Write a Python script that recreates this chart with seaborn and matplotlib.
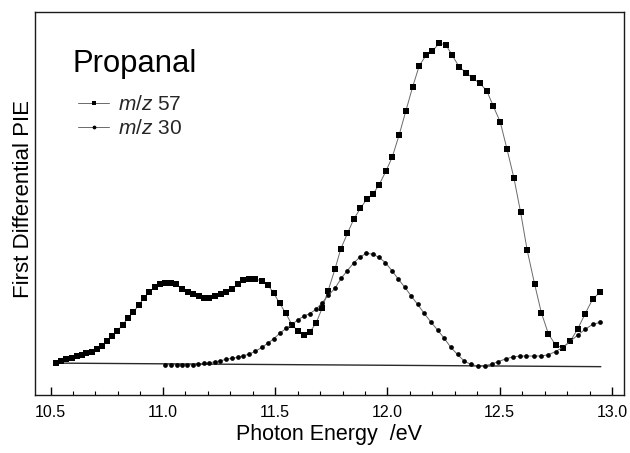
import matplotlib
matplotlib.use("Agg")
import matplotlib.pyplot as plt
import numpy as np
import pandas as pd
import seaborn as sns
from matplotlib.ticker import MultipleLocator

# ---- data (photon energy in eV, first differential PIE in arbitrary units) ----
mz57_energy = [10.525, 10.548, 10.570, 10.594, 10.616, 10.639, 10.660, 10.683, 10.705, 10.729,
               10.751, 10.773, 10.798, 10.821, 10.844, 10.869, 10.892, 10.916, 10.940, 10.963,
               10.987, 11.011, 11.035, 11.058, 11.085, 11.112, 11.136, 11.160, 11.183, 11.207,
               11.231, 11.258, 11.281, 11.308, 11.335, 11.359, 11.385, 11.412, 11.442, 11.468,
               11.494, 11.520, 11.547, 11.575, 11.601, 11.627, 11.654, 11.682, 11.709, 11.736,
               11.766, 11.792, 11.822, 11.850, 11.880, 11.908, 11.935, 11.963, 11.994, 12.022,
               12.052, 12.082, 12.112, 12.141, 12.171, 12.200, 12.230, 12.260, 12.289, 12.319,
               12.349, 12.379, 12.410, 12.442, 12.471, 12.502, 12.532, 12.563, 12.593, 12.622,
               12.655, 12.685, 12.717, 12.750, 12.781, 12.814, 12.847, 12.880, 12.914, 12.948]
mz57_signal = [0.7, 1.2, 1.9, 2.3, 2.7, 3.1, 3.6, 4.1, 4.9, 6.0,
               7.4, 8.9, 10.6, 12.5, 14.5, 16.5, 18.5, 20.8, 22.8, 24.1,
               25.2, 25.4, 25.4, 25.2, 23.7, 22.6, 22.0, 21.5, 20.8, 20.8,
               21.4, 22.0, 22.8, 23.7, 25.2, 26.3, 26.6, 26.6, 26.2, 24.8,
               22.3, 19.2, 16.1, 12.5, 10.6, 9.4, 10.2, 13.0, 17.6, 23.1,
               29.7, 36.0, 40.9, 45.3, 48.7, 51.5, 53.0, 56.0, 60.3, 64.7,
               71.4, 78.9, 86.3, 92.8, 96.1, 97.4, 99.9, 99.4, 96.1, 92.6,
               90.8, 89.1, 87.5, 85.2, 80.4, 75.5, 67.1, 58.1, 47.4, 35.7,
               25.2, 16.3, 9.6, 6.1, 5.4, 7.4, 11.2, 15.9, 20.5, 22.7]

mz30_energy = [11.011, 11.038, 11.061, 11.085, 11.109, 11.133, 11.156, 11.183, 11.207, 11.231,
               11.256, 11.281, 11.308, 11.335, 11.359, 11.385, 11.412, 11.442, 11.468, 11.494,
               11.520, 11.549, 11.575, 11.602, 11.629, 11.655, 11.682, 11.709, 11.736, 11.766,
               11.794, 11.821, 11.850, 11.877, 11.906, 11.935, 11.963, 11.991, 12.020, 12.048,
               12.077, 12.106, 12.134, 12.163, 12.193, 12.223, 12.253, 12.282, 12.312, 12.342,
               12.372, 12.403, 12.433, 12.464, 12.494, 12.526, 12.557, 12.588, 12.619, 12.651,
               12.684, 12.716, 12.749, 12.781, 12.814, 12.847, 12.880, 12.913, 12.948]
mz30_signal = [0.1, 0.1, 0.1, 0.1, 0.1, 0.1, 0.2, 0.5, 0.7, 1.0,
               1.3, 1.8, 2.1, 2.4, 2.9, 3.4, 4.3, 5.5, 6.8, 8.2,
               9.8, 11.4, 12.6, 14.1, 15.2, 16.0, 17.3, 19.3, 21.6, 23.8,
               26.9, 29.3, 31.7, 33.5, 34.7, 34.4, 33.4, 31.8, 29.3, 26.7,
               24.2, 21.4, 18.9, 16.1, 13.4, 10.9, 8.3, 5.5, 3.3, 1.2,
               0.2, -0.3, -0.2, 0.3, 1.1, 1.9, 2.5, 2.8, 2.8, 2.8,
               2.8, 3.2, 4.2, 5.5, 7.4, 9.3, 11.1, 12.6, 13.3]

baseline_energy = [10.53, 12.95]
baseline_signal = [0.6, -0.5]

xtick_values = [10.5, 11.0, 11.5, 12.0, 12.5, 13.0]
xtick_labels = ["10.5", "11.0", "11.5", "12.0", "12.5", "13.0"]
series_labels = [r"$\mathit{m/z}$ 57", r"$\mathit{m/z}$ 30"]

# ---- style ----
sns.set_style("ticks")
plt.rcParams["font.family"] = ["Liberation Sans", "DejaVu Sans"]
plt.rcParams["mathtext.fontset"] = "custom"
plt.rcParams["mathtext.rm"] = "Liberation Sans"
plt.rcParams["mathtext.it"] = "Liberation Sans:italic"

fig = plt.figure(figsize=(6.3, 4.53), dpi=100)
ax = fig.add_axes([0.0556, 0.128, 0.9341, 0.8455])

df57 = pd.DataFrame({"energy": mz57_energy, "signal": mz57_signal})
df30 = pd.DataFrame({"energy": mz30_energy, "signal": mz30_signal})
dfb = pd.DataFrame({"energy": baseline_energy, "signal": baseline_signal})

sns.lineplot(data=dfb, x="energy", y="signal", ax=ax, color="#2a2a2a", lw=1.0,
             legend=False)
sns.lineplot(data=df57, x="energy", y="signal", ax=ax, color="#6a6a6a", lw=0.7,
             marker="s", markersize=3.7, markerfacecolor="black",
             markeredgecolor="black", markeredgewidth=0, label=series_labels[0])
sns.lineplot(data=df30, x="energy", y="signal", ax=ax, color="#6a6a6a", lw=0.7,
             marker="o", markersize=3.4, markerfacecolor="black",
             markeredgecolor="black", markeredgewidth=0, label=series_labels[1])

ax.set_xlim(10.431, 13.051)
ax.set_ylim(-9.3, 109.6)
ax.set_yticks([])
ax.set_xticks(xtick_values)
ax.set_xticklabels(xtick_labels)
ax.xaxis.set_minor_locator(MultipleLocator(0.1))
ax.tick_params(axis="x", which="major", direction="in", length=6, width=1,
               labelsize=11.5, pad=7, color="black", labelcolor="black")
ax.tick_params(axis="x", which="minor", direction="in", length=3, width=0.8,
               color="black")
for side in ["left", "right", "top", "bottom"]:
    ax.spines[side].set_visible(True)
    ax.spines[side].set_color("#1a1a1a")
    ax.spines[side].set_linewidth(1.0)

ax.set_xlabel("Photon Energy  /eV", fontsize=15.5, color="black")
ax.xaxis.label.set_va("center")
ax.xaxis.set_label_coords(0.5, -0.103)
ax.set_ylabel("First Differential PIE", fontsize=16, color="black")
ax.yaxis.label.set_va("center")
ax.yaxis.set_label_coords(-0.020, 0.513)

ax.text(0.064, 0.864, "Propanal", transform=ax.transAxes, fontsize=22.3,
        ha="left", va="center", color="black")

handles, labels = ax.get_legend_handles_labels()
ax.legend(handles, labels, loc="upper left", bbox_to_anchor=(0.073, 0.783),
          frameon=False, fontsize=15, handlelength=1.5, handletextpad=0.4,
          labelspacing=0.25, borderpad=0, borderaxespad=0, markerscale=0.8)

fig.savefig("out.png", dpi=100)
